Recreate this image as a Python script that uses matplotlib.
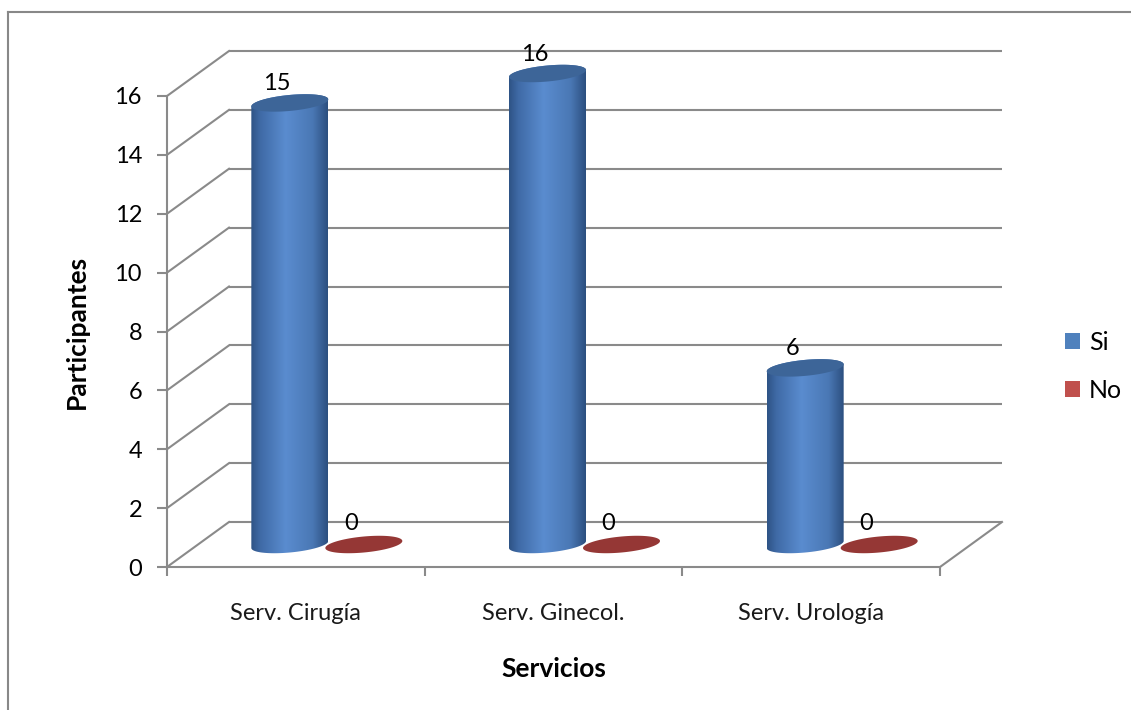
import numpy as np
import matplotlib
matplotlib.use("Agg")
from matplotlib import pyplot as plt
from matplotlib.colors import LinearSegmentedColormap
from matplotlib.patches import Polygon, Patch
from matplotlib.lines import Line2D

plt.rcParams["font.family"] = ["Lato", "DejaVu Sans"]

# Data
categories = ["Serv. Cirugía", "Serv. Ginecol.", "Serv. Urología"]
series_names = ["Si", "No"]
si_values = [15, 16, 6]
no_values = [0, 0, 0]
yticks = [0, 2, 4, 6, 8, 10, 12, 14, 16]

# Styles
grid_col = "#8a8a8a"
blue_top = "#3d6598"
red_disk = "#953735"
red_legend = "#c0504d"
blue_legend = "#4f81bd"
cyl_cmap = LinearSegmentedColormap.from_list(
    "cyl", [(0, "#2e5385"), (0.12, "#3f6aa6"), (0.45, "#5a8ccf"),
            (0.8, "#4a78b5"), (1, "#2c4f7f")])

W, H = 1131, 710
px_per_unit = 471 / 16
top_px = 30  # axes extend above the 16 line so the cylinder tops fit
ymax = (567 - top_px) / px_per_unit

fig = plt.figure(figsize=(W / 100, H / 100), dpi=100)
ax = fig.add_axes([167 / W, 1 - 567 / H, 773 / W, (567 - top_px) / H])
ax.patch.set_alpha(0)

# depth of the 3D box in data units (62 px right, 45 px up)
ddx = 62 / 773 * 3
ddy = 45 / px_per_unit
# cylinder radius and ellipse shape
ra = 38.5 / 773 * 3
rb = 8 / px_per_unit
rk = 3.5 / px_per_unit
shift = 37 / 773 * 3


def ellipse_pts(cx, cy, t):
    return cx + ra * np.cos(t), cy + rb * np.sin(t) + rk * np.cos(t)


# back wall and floor
for v in yticks:
    ax.plot([ddx, 3 + ddx], [v + ddy, v + ddy], color=grid_col, lw=1.5,
            clip_on=False, zorder=1, solid_capstyle="butt")
    ax.plot([0, ddx], [v, v + ddy], color=grid_col, lw=1.5,
            clip_on=False, zorder=1)
ax.plot([3, 3 + ddx], [0, ddy], color=grid_col, lw=1.5, clip_on=False, zorder=1)

for s in ["top", "right"]:
    ax.spines[s].set_visible(False)
for s in ["left", "bottom"]:
    ax.spines[s].set_color(grid_col)
    ax.spines[s].set_linewidth(1.5)
ax.spines["left"].set_bounds(0, 16)

ax.set_yticks(yticks)
ax.set_yticklabels([str(v) for v in yticks])
ax.tick_params(axis="y", length=7, width=1.5, color=grid_col, pad=11,
               labelsize=17, labelcolor="black")
ax.set_xticks([0, 1, 2, 3])
ax.set_xticklabels([])
ax.tick_params(axis="x", which="major", length=6.5, width=1.5, color=grid_col)
ax.set_xticks([0.5, 1.5, 2.5], minor=True)
ax.set_xticklabels(categories, minor=True)
ax.tick_params(axis="x", which="minor", length=0, pad=26, labelsize=17,
               labelcolor="#1a1a1a")

ax.set_xlabel("Servicios", fontsize=19, fontweight="bold", labelpad=24)
ax.set_ylabel("Participantes", fontsize=19, fontweight="bold")
# centre the y title on the 0-16 range, not on the whole axes
ax.yaxis.set_label_coords(-78 / 773, 8 / ymax)

t_low = np.linspace(np.pi, 2 * np.pi, 60)
t_up = np.linspace(0, np.pi, 60)
t_all = np.linspace(0, 2 * np.pi, 120)

for i, (si, no) in enumerate(zip(si_values, no_values)):
    c = i + 0.5
    # "Si" cylinder
    cx = c - shift + ddx / 2
    yb = ddy / 2
    yt = si + ddy / 2
    bx, by = ellipse_pts(cx, yb, t_low)
    tx, ty = ellipse_pts(cx, yt, t_up)
    outline = np.column_stack([np.r_[bx, tx], np.r_[by, ty]])
    body = Polygon(outline, closed=True, transform=ax.transData,
                   facecolor="none", edgecolor="none")
    grad = np.linspace(0, 1, 256).reshape(1, -1)
    im = ax.imshow(grad, cmap=cyl_cmap, aspect="auto", interpolation="bicubic",
                   extent=(cx - ra, cx + ra, yb - rb - rk, yt + rb + rk),
                   zorder=3)
    im.set_clip_path(body)
    ex, ey = ellipse_pts(cx, yt, t_all)
    ax.fill(ex, ey, color=blue_top, zorder=4, lw=0)
    ax.text(cx - 13 / 773 * 3, yt + 19 / px_per_unit, str(si), fontsize=17,
            ha="center", va="center", zorder=6)

    # "No" disk (zero height)
    nx_ = c + shift + ddx / 2
    ny_ = no + ddy / 2
    ex, ey = ellipse_pts(nx_, ny_, t_all)
    ax.fill(ex, ey, color=red_disk, zorder=4, lw=0)
    ax.text(nx_ - 13 / 773 * 3, ny_ + 21 / px_per_unit, str(no), fontsize=17,
            ha="center", va="center", zorder=6)

ax.set_xlim(0, 3)
ax.set_ylim(0, ymax)

handles = [Patch(facecolor=blue_legend, edgecolor="none"),
           Patch(facecolor=red_legend, edgecolor="none")]
fig.legend(handles, series_names, loc="center left",
           bbox_to_anchor=(1065 / W, 1 - 366 / H), frameon=False,
           fontsize=18, handlelength=0.6, handleheight=0.6,
           handletextpad=0.35, labelspacing=1.0, borderpad=0,
           borderaxespad=0)

# chart area border
fig.add_artist(Line2D([8 / W, 8 / W], [0, 1 - 12 / H], color="#888888",
                      lw=1.5, transform=fig.transFigure))
fig.add_artist(Line2D([8 / W, 1], [1 - 12 / H, 1 - 12 / H], color="#888888",
                      lw=1.5, transform=fig.transFigure))

fig.savefig("out.png", dpi=100)
